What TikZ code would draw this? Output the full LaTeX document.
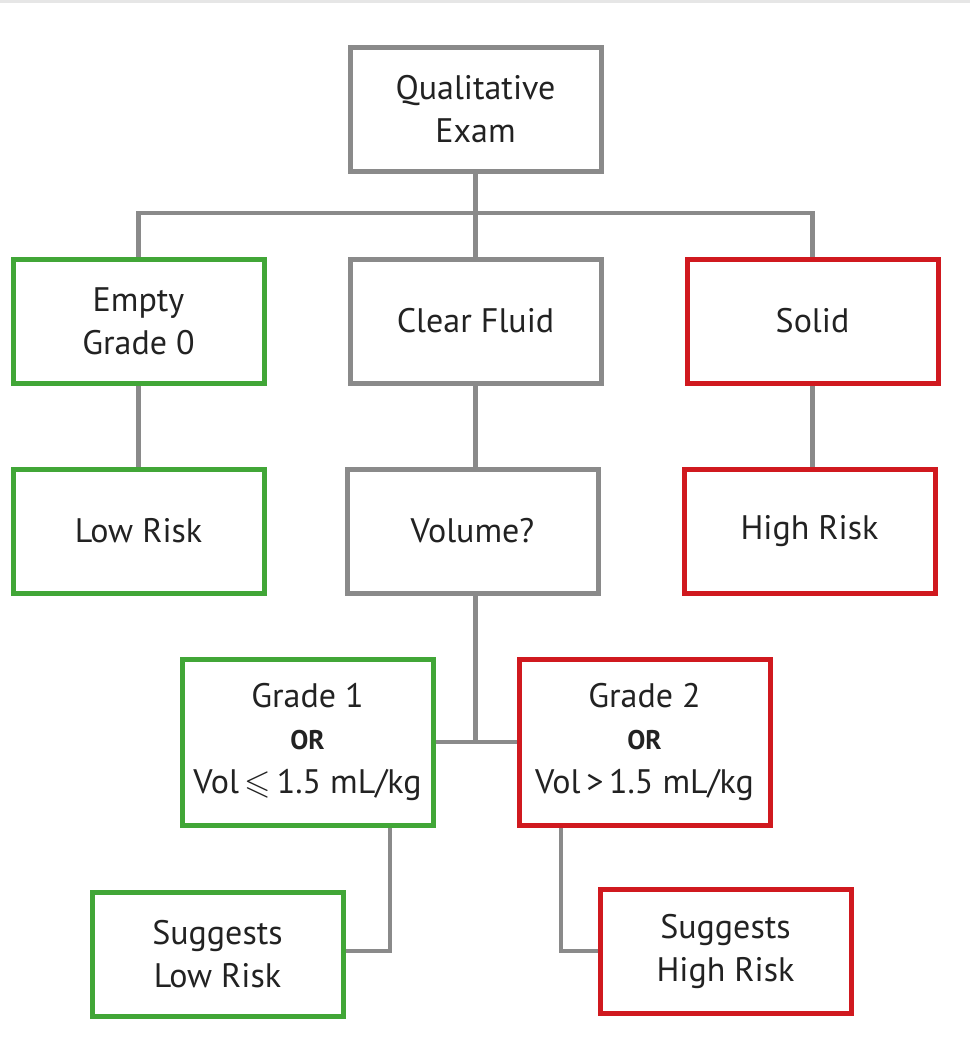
\documentclass[tikz,border=0pt]{standalone}
\usepackage{fontspec}
\usepackage{amssymb}
\usetikzlibrary{backgrounds}
\setmainfont{PT Sans}
\definecolor{boxgray}{HTML}{8A8A8A}
\definecolor{boxgreen}{HTML}{41A637}
\definecolor{boxred}{HTML}{D0191F}
\definecolor{txt}{HTML}{222222}
\definecolor{strip}{HTML}{E6E6E6}
\tikzset{
  base/.style={draw, rectangle, line width=5pt, fill=white, text=txt,
    minimum width=251pt, minimum height=124pt, align=center, inner sep=0pt,
    font=\fontsize{34}{43}\selectfont},
  graybox/.style={base, draw=boxgray},
  greenbox/.style={base, draw=boxgreen},
  redbox/.style={base, draw=boxred},
  tallbox/.style={minimum height=166pt},
  conn/.style={draw=boxgray, line width=4.5pt}
}
\newcommand{\orword}{{\fontsize{27}{30}\selectfont\bfseries OR}}
\begin{document}
\begin{tikzpicture}[x=1pt,y=-1pt]
\useasboundingbox (0,0) rectangle (970,1059);

\node[graybox] (qe) at (475.5,109.5) {Qualitative\\Exam};
\node[greenbox] (empty) at (138.5,321) {Empty\\Grade 0};
\node[graybox] (clear) at (475.5,321) {Clear Fluid};
\node[redbox] (solid) at (812.5,321) {Solid};
\node[greenbox] (low) at (138.5,531) {Low Risk};
\node[graybox] (vol) at (472.5,531) {Volume?};
\node[redbox] (high) at (809.5,531) {High Risk};
\node[greenbox, tallbox] (g1) at (307.5,742) {Grade 1\\[-1pt]\orword\\[1pt]Vol\,$\leqslant$\,1.5 mL/kg};
\node[redbox, tallbox] (g2) at (644.5,742) {Grade 2\\[-1pt]\orword\\[1pt]Vol\,>\,1.5 mL/kg};
\node[greenbox] (sl) at (217.5,954) {Suggests\\Low Risk};
\node[redbox] (sh) at (725.5,951) {Suggests\\High Risk};

\coordinate (hl) at (138.5,213);
\coordinate (hr) at (812.5,213);
\coordinate (hm) at (475.5,213);
\coordinate (vj) at (475.5,741);
\coordinate (j1) at (390,951);
\coordinate (j2) at (561,951);

\begin{scope}[on background layer]
\fill[white] (0,0) rectangle (970,1059);
\fill[strip] (0,0) rectangle (970,3);
\draw[conn] (qe.south) -- (hm);
\draw[conn, line cap=rect] (hl) -- (hr);
\draw[conn] (hl) -- (empty.north);
\draw[conn] (hm) -- (clear.north);
\draw[conn] (hr) -- (solid.north);
\draw[conn] (empty.south) -- (low.north);
\draw[conn] (clear.south) -- (clear.south |- vol.north);
\draw[conn] (solid.south) -- (solid.south |- high.north);
\draw[conn] (vol.south -| vj) -- (vj);
\draw[conn] (g1.east) -- (g2.west);
\draw[conn] (j1 |- g1.south) -- (j1) -- (sl.east |- j1);
\draw[conn] (j2 |- g2.south) -- (j2) -- (sh.west |- j2);
\end{scope}
\end{tikzpicture}
\end{document}
